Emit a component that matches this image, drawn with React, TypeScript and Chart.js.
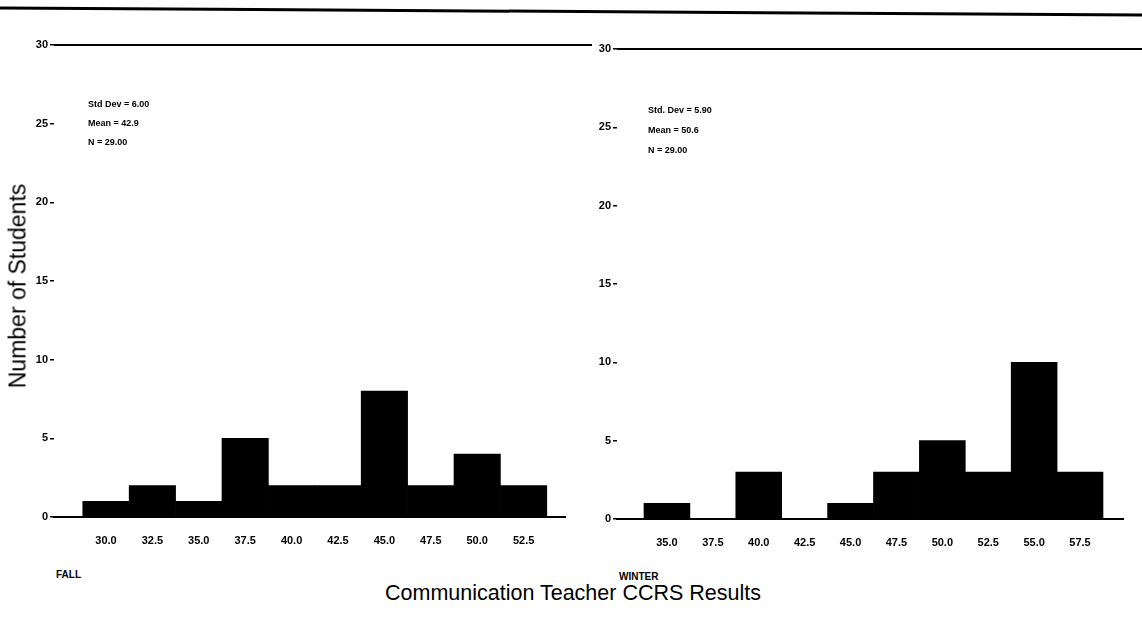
import React, { useEffect, useRef } from "react";
import { Chart, registerables } from "chart.js";

Chart.register(...registerables);

const fallBins = [30.0, 32.5, 35.0, 37.5, 40.0, 42.5, 45.0, 47.5, 50.0, 52.5];
const fallCounts = [1, 2, 1, 5, 2, 2, 8, 2, 4, 2];
const winterBins = [35.0, 37.5, 40.0, 42.5, 45.0, 47.5, 50.0, 52.5, 55.0, 57.5];
const winterCounts = [1, 0, 3, 0, 1, 3, 5, 3, 10, 3];
const yTicks = [0, 5, 10, 15, 20, 25, 30];
const fallStats = ["Std Dev = 6.00", "Mean = 42.9", "N = 29.00"];
const winterStats = ["Std. Dev = 5.90", "Mean = 50.6", "N = 29.00"];

const FONT = "'Liberation Sans', Arial, sans-serif";

type HistProps = {
  bins: number[];
  counts: number[];
  xMin: number;
  xMax: number;
  left: number;
  width: number;
  height: number;
  padTop: number;
  padRight: number;
  padBottom: number;
  yAxisWidth: number;
  lineEndInset: number;
};

function Histogram(p: HistProps) {
  const ref = useRef<HTMLCanvasElement>(null);
  useEffect(() => {
    if (!ref.current) return;
    const topLine = {
      id: "topLine",
      afterDraw(chart: any) {
        const y = chart.scales.y.getPixelForValue(30);
        const ctx = chart.ctx;
        ctx.save();
        ctx.strokeStyle = "#000";
        ctx.lineWidth = 2;
        ctx.beginPath();
        ctx.moveTo(chart.chartArea.left, y);
        ctx.lineTo(chart.width - p.lineEndInset, y);
        ctx.stroke();
        ctx.restore();
      },
    };
    const chart = new Chart(ref.current, {
      type: "bar",
      data: {
        datasets: [
          {
            data: p.bins.map((b, i) => ({ x: b, y: p.counts[i] })),
            backgroundColor: "#000",
            borderWidth: 0,
            barPercentage: 1,
            categoryPercentage: 1,
          },
        ],
      },
      options: {
        animation: false,
        responsive: false,
        maintainAspectRatio: false,
        layout: { padding: { top: p.padTop, right: p.padRight, bottom: p.padBottom, left: 0 } },
        plugins: { legend: { display: false }, tooltip: { enabled: false } },
        scales: {
          x: {
            type: "linear",
            min: p.xMin,
            max: p.xMax,
            offset: false,
            afterBuildTicks: (s: any) => {
              s.ticks = p.bins.map((v) => ({ value: v }));
            },
            afterFit: (s: any) => {
              s.height = 30;
            },
            grid: { display: false, drawTicks: false },
            border: { display: true, color: "#000", width: 2 },
            ticks: {
              padding: 17,
              color: "#000",
              autoSkip: false,
              maxRotation: 0,
              font: { family: FONT, size: 11, weight: "bold" },
              callback: (v: any) => Number(v).toFixed(1),
            },
          },
          y: {
            min: 0,
            max: 30,
            afterBuildTicks: (s: any) => {
              s.ticks = yTicks.map((v) => ({ value: v }));
            },
            afterFit: (s: any) => {
              s.width = p.yAxisWidth;
            },
            grid: { drawOnChartArea: false, drawTicks: true, tickLength: 4, color: "#000", lineWidth: 1.5 },
            border: { display: false },
            ticks: {
              padding: 2,
              color: "#000",
              font: { family: FONT, size: 11, weight: "bold" },
            },
          },
        },
      } as any,
      plugins: [topLine],
    });
    return () => chart.destroy();
  }, []);
  return (
    <canvas
      ref={ref}
      width={p.width}
      height={p.height}
      style={{ position: "absolute", left: p.left, top: 0, width: p.width, height: p.height }}
    />
  );
}

function Stats({ lines, left, top, lh }: { lines: string[]; left: number; top: number; lh: number }) {
  return (
    <div
      style={{
        position: "absolute",
        left,
        top,
        fontFamily: FONT,
        fontSize: 9,
        fontWeight: "bold",
        lineHeight: `${lh}px`,
        color: "#000",
        whiteSpace: "nowrap",
      }}
    >
      {lines.map((l, i) => (
        <div key={i}>{l}</div>
      ))}
    </div>
  );
}

export default function App() {
  return (
    <div style={{ position: "absolute", left: 0, top: 0, width: 1142, height: 626, background: "#fff", overflow: "hidden" }}>
      <svg width={1142} height={30} style={{ position: "absolute", left: 0, top: 0 }}>
        <line x1={0} y1={8} x2={1142} y2={15} stroke="#000" strokeWidth={3} />
      </svg>
      <Histogram
        bins={fallBins}
        counts={fallCounts}
        xMin={27.2}
        xMax={54.73}
        left={0}
        width={600}
        height={560}
        padTop={45}
        padRight={35}
        padBottom={13}
        yAxisWidth={54}
        lineEndInset={8}
      />
      <Histogram
        bins={winterBins}
        counts={winterCounts}
        xMin={32.28}
        xMax={59.84}
        left={580}
        width={562}
        height={560}
        padTop={49}
        padRight={19}
        padBottom={11}
        yAxisWidth={37}
        lineEndInset={0}
      />
      <Stats lines={fallStats} left={88} top={95} lh={19} />
      <Stats lines={winterStats} left={648} top={100} lh={20} />
      <div style={{ position: "absolute", left: 56, top: 569, fontFamily: FONT, fontSize: 10, fontWeight: "bold" }}>FALL</div>
      <div style={{ position: "absolute", left: 619, top: 571, fontFamily: FONT, fontSize: 10, fontWeight: "bold" }}>WINTER</div>
      <div
        style={{
          position: "absolute",
          left: 18,
          top: 286,
          transform: "translate(-50%, -50%) rotate(-90deg)",
          fontFamily: FONT,
          fontSize: 23,
          whiteSpace: "nowrap",
        }}
      >
        Number of Students
      </div>
      <div
        style={{
          position: "absolute",
          left: 573,
          top: 593,
          transform: "translate(-50%, -50%)",
          fontFamily: FONT,
          fontSize: 21.5,
          whiteSpace: "nowrap",
        }}
      >
        Communication Teacher CCRS Results
      </div>
    </div>
  );
}
